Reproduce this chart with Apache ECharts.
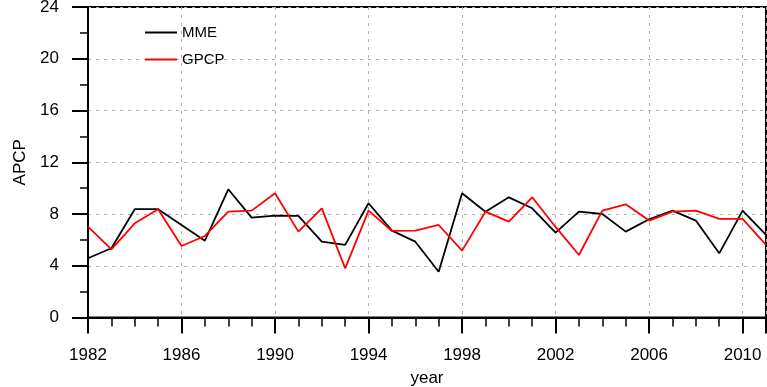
<!DOCTYPE html>
<html>
<head>
<meta charset="utf-8">
<script src="https://cdn.jsdelivr.net/npm/echarts@6/dist/echarts.min.js"></script>
<style>
  html, body { margin: 0; padding: 0; background: #ffffff; }
  #chart { width: 767px; height: 387px; }
</style>
</head>
<body>
<div id="chart"></div>
<script>
// Annual precipitation (APCP): multi-model ensemble vs GPCP observations
const years = [1982, 1983, 1984, 1985, 1986, 1987, 1988, 1989, 1990, 1991,
               1992, 1993, 1994, 1995, 1996, 1997, 1998, 1999, 2000, 2001,
               2002, 2003, 2004, 2005, 2006, 2007, 2008, 2009, 2010, 2011];
const mme  = [4.58, 5.35, 8.37, 8.37, 7.15, 5.94, 9.91, 7.72, 7.88, 7.86,
              5.86, 5.61, 8.83, 6.71, 5.86, 3.54, 9.60, 8.18, 9.29, 8.44,
              6.56, 8.18, 8.00, 6.64, 7.59, 8.26, 7.49, 4.96, 8.26, 6.38];
const gpcp = [7.02, 5.27, 7.28, 8.37, 5.53, 6.30, 8.18, 8.26, 9.60, 6.64,
              8.44, 3.80, 8.26, 6.69, 6.71, 7.15, 5.17, 8.18, 7.41, 9.29,
              7.00, 4.83, 8.26, 8.75, 7.49, 8.18, 8.26, 7.62, 7.62, 5.61];
const yTicks = [0, 4, 8, 12, 16, 20, 24];
const yearTicks = [1982, 1986, 1990, 1994, 1998, 2002, 2006, 2010];

// x values are stored as offsets from the first year so ticks start on 1982
const BASE = years[0];
const toPoints = vals => years.map((y, i) => [y - BASE, vals[i]]);

const FONT = 'Liberation Sans';
const gridDash = { color: '#b0b0b0', width: 1, type: [3, 5] };

const chart = echarts.init(document.getElementById('chart'), null, { renderer: 'canvas' });
chart.setOption({
  animation: false,
  backgroundColor: '#ffffff',
  grid: {
    left: 88, right: 1, top: 7, bottom: 69.5,
    outerBoundsMode: 'none',
    containLabel: false,
    show: true, borderColor: '#000', borderWidth: 2, backgroundColor: 'transparent'
  },
  legend: {
    orient: 'vertical',
    left: 145, top: 25, padding: 0,
    icon: 'rect',
    itemWidth: 32, itemHeight: 2, itemGap: 12,
    data: ['MME', 'GPCP'],
    textStyle: { fontFamily: FONT, fontSize: 15, color: '#000' }
  },
  xAxis: {
    type: 'value',
    min: 0,
    max: years[years.length - 1] - BASE,
    interval: yearTicks[1] - yearTicks[0],
    name: 'year',
    nameLocation: 'middle',
    nameGap: 52,
    nameTextStyle: { fontFamily: FONT, fontSize: 17, color: '#000' },
    axisLine: { show: true, onZero: false, lineStyle: { color: '#000', width: 2 } },
    axisTick: { show: true, length: 16, lineStyle: { color: '#000', width: 2 } },
    minorTick: { show: true, splitNumber: 4, length: 9, lineStyle: { color: '#000', width: 1.5 } },
    axisLabel: {
      margin: 29,
      fontFamily: FONT, fontSize: 17, color: '#000',
      formatter: v => (yearTicks.indexOf(v + BASE) >= 0 ? String(v + BASE) : '')
    },
    splitLine: { show: true, lineStyle: gridDash }
  },
  yAxis: {
    type: 'value',
    min: yTicks[0],
    max: yTicks[yTicks.length - 1],
    interval: yTicks[1] - yTicks[0],
    name: 'APCP',
    nameLocation: 'middle',
    nameGap: 59,
    nameTextStyle: { fontFamily: FONT, fontSize: 17, color: '#000' },
    axisLine: { show: true, lineStyle: { color: '#000', width: 2 } },
    axisTick: { show: true, length: 16, lineStyle: { color: '#000', width: 2 } },
    minorTick: { show: true, splitNumber: 2, length: 8, lineStyle: { color: '#000', width: 1.5 } },
    axisLabel: { margin: 29, fontFamily: FONT, fontSize: 17, color: '#000' },
    splitLine: { show: true, lineStyle: gridDash }
  },
  series: [
    {
      name: 'MME', type: 'line', data: toPoints(mme),
      symbol: 'none', color: '#000000',
      lineStyle: { color: '#000000', width: 1.8 }
    },
    {
      name: 'GPCP', type: 'line', data: toPoints(gpcp),
      symbol: 'none', color: '#ff0000',
      lineStyle: { color: '#ff0000', width: 1.8 }
    }
  ]
});
</script>
</body>
</html>
